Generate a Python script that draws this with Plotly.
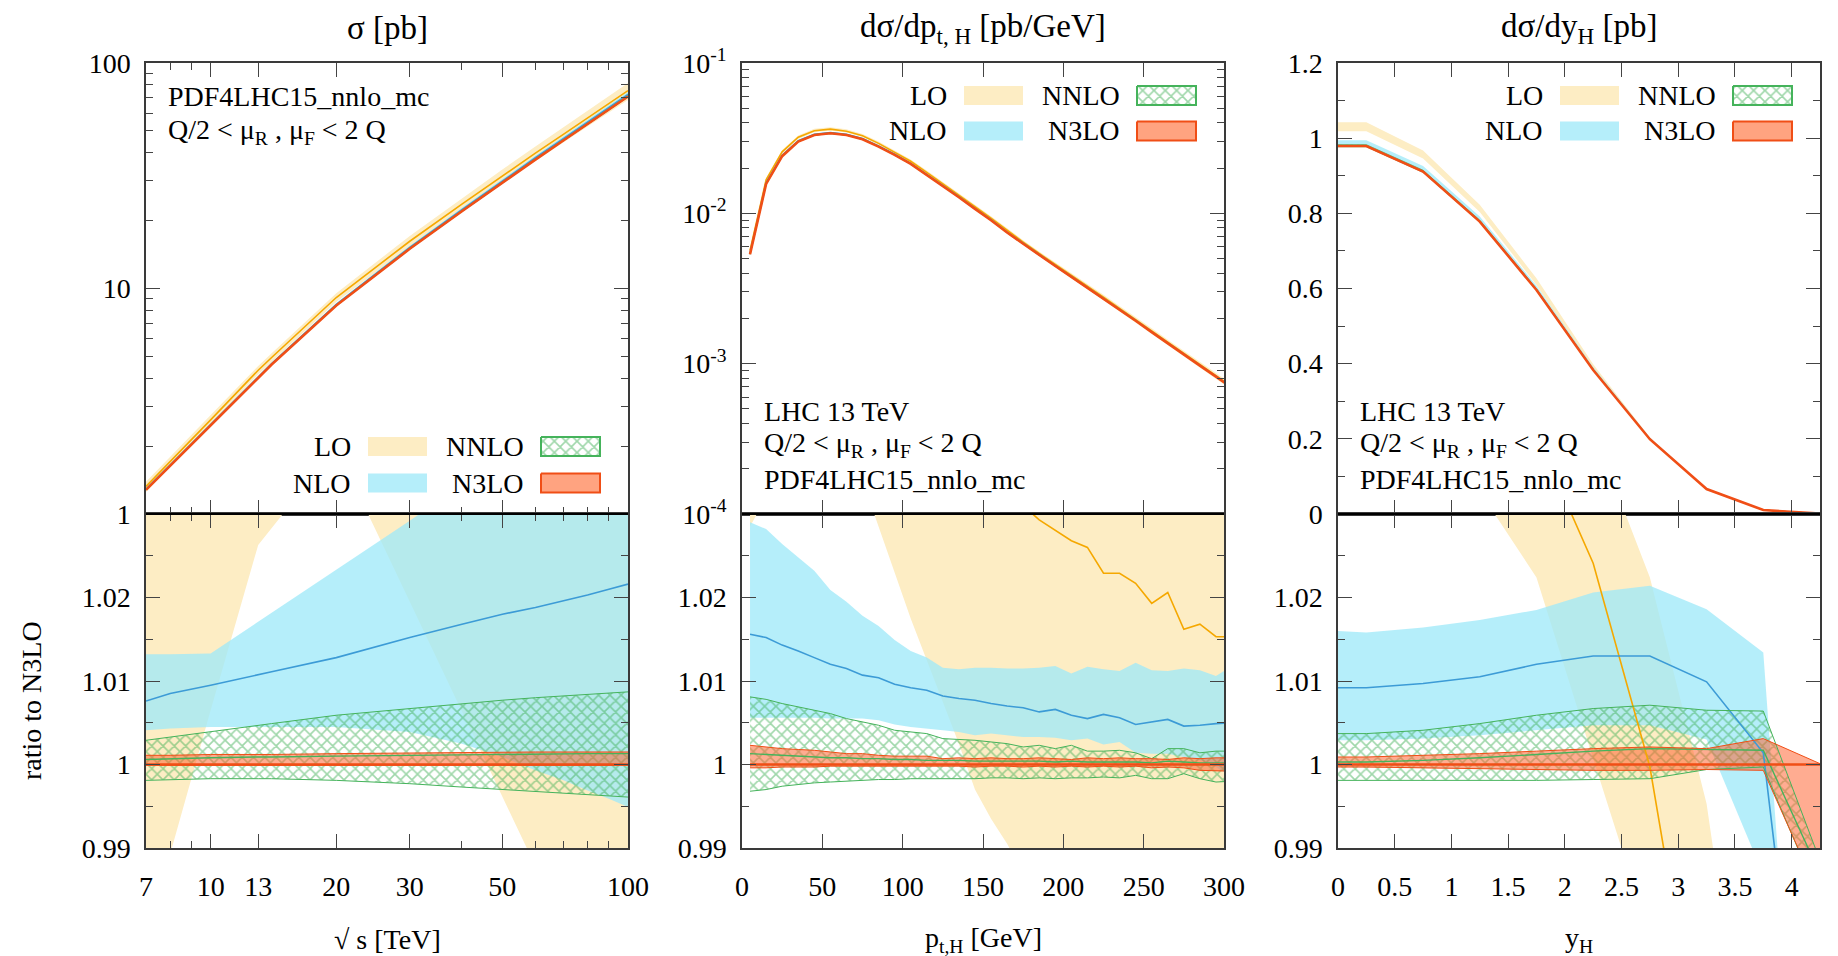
import plotly.graph_objects as go

W, H = 1838, 956
FONT = "Liberation Serif"

# ---------------- data: total cross section vs sqrt(s) ----------------
sqrts = [7, 8, 10, 13, 14, 20, 30, 40, 50, 60, 70, 80, 90, 100]
sig_n3lo = [1.28, 1.64, 2.48, 4.05, 4.60, 8.4, 15.0, 22.0, 29.5, 37.3, 45.3, 53.6, 62.0, 71.0]
s_lo_c = [1.035, 1.041, 1.054, 1.072, 1.075, 1.086, 1.080, 1.075, 1.070, 1.068, 1.066, 1.064, 1.063, 1.062]
s_lo_lo = [0.979, 0.990, 1.0065, 1.0263, 1.0283, 1.038, 1.0195, 1.0063, 0.9962, 0.9879, 0.9808, 0.9747, 0.9693, 0.9646]
s_lo_hi = [1.085, 1.092, 1.105, 1.120, 1.123, 1.135, 1.140, 1.142, 1.143, 1.144, 1.145, 1.146, 1.147, 1.148]
s_nlo_c = [1.0076, 1.0085, 1.0095, 1.0107, 1.0111, 1.0128, 1.0152, 1.0168, 1.0180, 1.0188, 1.0196, 1.0203, 1.0210, 1.0216]
s_nlo_lo = [1.0041, 1.0043, 1.0045, 1.0045, 1.0045, 1.0045, 1.0039, 1.0025, 1.0009, 0.9993, 0.9981, 0.9969, 0.9959, 0.9949]
s_nlo_hi = [1.0132, 1.0132, 1.0133, 1.0171, 1.0182, 1.0234, 1.0292, 1.0335, 1.0368, 1.0395, 1.0418, 1.0437, 1.0455, 1.0470]
s_nnlo_c = [1.0006, 1.0007, 1.0008, 1.0009, 1.0009, 1.0010, 1.0011, 1.0012, 1.0012, 1.0013, 1.0013, 1.0013, 1.0013, 1.0013]
s_nnlo_lo = [0.9981, 0.9982, 0.9983, 0.9983, 0.9983, 0.9981, 0.9977, 0.9973, 0.9970, 0.9968, 0.9966, 0.9964, 0.9962, 0.9961]
s_nnlo_hi = [1.0029, 1.0033, 1.0039, 1.0047, 1.0049, 1.0059, 1.0067, 1.0073, 1.0077, 1.0080, 1.0082, 1.0084, 1.0086, 1.0087]
s_n3_c = [1.0, 1.0, 1.0, 1.0, 1.0, 1.0, 1.0, 1.0, 1.0, 1.0, 1.0, 1.0, 1.0, 1.0]
s_n3_lo = [0.9999, 0.9999, 0.9999, 0.9999, 0.9999, 0.9999, 0.9999, 0.9999, 0.9999, 0.9999, 0.9999, 0.9999, 0.9999, 0.9999]
s_n3_hi = [1.0011, 1.0011, 1.0012, 1.0012, 1.0012, 1.0013, 1.0014, 1.0014, 1.0015, 1.0015, 1.0015, 1.0015, 1.0015, 1.0015]

# ---------------- data: Higgs transverse momentum ----------------
pt = [5, 15, 25, 35, 45, 55, 65, 75, 85, 95, 105, 115, 125, 135, 145, 155,
      165, 175, 185, 195, 205, 215, 225, 235, 245, 255, 265, 275, 285, 295, 305]
pt_n3lo = [0.00535, 0.0157, 0.0240, 0.0300, 0.0332, 0.0341, 0.0332, 0.0311, 0.0278, 0.0245,
           0.0213, 0.0180, 0.0152, 0.0128, 0.0107, 0.0090, 0.00745, 0.00625, 0.00525, 0.00446,
           0.00378, 0.00320, 0.00271, 0.00228, 0.00193, 0.00162, 0.00136, 0.00115, 0.00097,
           0.00082, 0.00069]
p_lo_c = [1.060, 1.065, 1.068, 1.070, 1.068, 1.065, 1.060, 1.055, 1.050, 1.046, 1.043, 1.040,
          1.038, 1.036, 1.034, 1.033, 1.032, 1.031, 1.0293, 1.0280, 1.0268, 1.0260, 1.0229,
          1.0229, 1.0217, 1.0193, 1.0206, 1.0162, 1.0168, 1.0153, 1.0153]
p_lo_lo = [1.0285, 1.032, 1.036, 1.040, 1.042, 1.041, 1.038, 1.034, 1.0285, 1.023, 1.0175,
           1.0125, 1.0075, 1.0025, 0.997, 0.9935, 0.9905, 0.987, 0.984, 0.981, 0.979, 0.977,
           0.975, 0.974, 0.973, 0.972, 0.971, 0.970, 0.969, 0.968, 0.967]
p_lo_hi = [1.090, 1.095, 1.100, 1.100, 1.100, 1.095, 1.090, 1.085, 1.080, 1.075, 1.072, 1.070,
           1.068, 1.066, 1.064, 1.063, 1.062, 1.061, 1.060, 1.060, 1.060, 1.060, 1.060, 1.060,
           1.060, 1.060, 1.060, 1.060, 1.060, 1.060, 1.060]
p_nlo_c = [1.0156, 1.0152, 1.0143, 1.0136, 1.0128, 1.0120, 1.0115, 1.0107, 1.0104, 1.0096,
           1.0092, 1.0089, 1.0082, 1.0079, 1.0077, 1.0073, 1.0070, 1.0068, 1.0063, 1.0066,
           1.0059, 1.0055, 1.0060, 1.0056, 1.0048, 1.0051, 1.0054, 1.0046, 1.0047, 1.0049, 1.0050]
p_nlo_lo = [1.0056, 1.0056, 1.0056, 1.0056, 1.0056, 1.0055, 1.0055, 1.0055, 1.0053, 1.0048,
            1.0045, 1.0043, 1.0041, 1.0039, 1.0035, 1.0037, 1.0035, 1.0033, 1.0033, 1.0032,
            1.0029, 1.0031, 1.0024, 1.0027, 1.0014, 1.0013, 1.0013, 1.0009, 1.0005, 0.9997, 0.9985]
p_nlo_hi = [1.0290, 1.0282, 1.0264, 1.0248, 1.0232, 1.0209, 1.0195, 1.0178, 1.0166, 1.0149,
            1.0136, 1.0128, 1.0116, 1.0114, 1.0116, 1.0116, 1.0115, 1.0115, 1.0116, 1.0118,
            1.0109, 1.0117, 1.0114, 1.0112, 1.0122, 1.0113, 1.0112, 1.0115, 1.0113, 1.0106, 1.0118]
p_nnlo_c = [1.0013, 1.0012, 1.0011, 1.0010, 1.0009, 1.0008, 1.0008, 1.0007, 1.0007, 1.0006,
            1.0006, 1.0005, 1.0005, 1.0005, 1.0004, 1.0004, 1.0004, 1.0004, 1.0004, 1.0003,
            1.0004, 1.0003, 1.0003, 1.0003, 1.0003, 1.0002, 1.0004, 1.0003, 1.0002, 1.0002, 1.0002]
p_nnlo_lo = [0.9968, 0.9970, 0.9974, 0.9976, 0.9978, 0.9979, 0.9980, 0.9981, 0.9982, 0.9982,
             0.9983, 0.9983, 0.9983, 0.9983, 0.9983, 0.9984, 0.9984, 0.9983, 0.9984, 0.9983,
             0.9984, 0.9984, 0.9985, 0.9984, 0.9987, 0.9983, 0.9983, 0.9989, 0.9983, 0.9979, 0.9980]
p_nnlo_hi = [1.0081, 1.0078, 1.0073, 1.0069, 1.0065, 1.0061, 1.0055, 1.0051, 1.0047, 1.0041,
             1.0039, 1.0037, 1.0031, 1.0030, 1.0029, 1.0027, 1.0025, 1.0021, 1.0023, 1.0019,
             1.0023, 1.0016, 1.0016, 1.0017, 1.0014, 1.0007, 1.0019, 1.0019, 1.0014, 1.0016, 1.0016]
p_n3_c = [1.0, 1.0, 1.0, 1.0, 1.0, 1.0, 1.0, 1.0, 1.0, 1.0, 1.0, 1.0, 1.0, 1.0, 1.0, 1.0,
          1.0, 1.0, 1.0, 1.0, 1.0, 1.0, 1.0, 1.0, 1.0, 1.0, 1.0, 1.0, 1.0, 1.0, 1.0]
p_n3_lo = [0.9996, 0.9996, 0.9997, 0.9997, 0.9997, 0.9998, 0.9998, 0.9998, 0.9998, 0.9998,
           0.9998, 0.9998, 0.9998, 0.9998, 0.9997, 0.9998, 0.9998, 0.9997, 0.9998, 0.9997,
           0.9998, 0.9997, 0.9998, 0.9997, 0.9998, 0.9996, 0.9997, 0.9996, 0.9993, 0.9992, 0.9992]
p_n3_hi = [1.0023, 1.0021, 1.0019, 1.0018, 1.0017, 1.0015, 1.0013, 1.0013, 1.0011, 1.0010,
           1.0010, 1.0010, 1.0007, 1.0008, 1.0007, 1.0008, 1.0007, 1.0007, 1.0008, 1.0007,
           1.0006, 1.0008, 1.0007, 1.0008, 1.0007, 1.0007, 1.0006, 1.0008, 1.0007, 1.0008, 1.0008]

# ---------------- data: Higgs rapidity ----------------
yh = [0, 0.25, 0.75, 1.25, 1.75, 2.25, 2.75, 3.25, 3.75, 4.25]
yh_n3lo = [0.979, 0.979, 0.911, 0.778, 0.596, 0.383, 0.199, 0.0665, 0.0106, 0.001]
y_lo_c = [1.052, 1.052, 1.050, 1.046, 1.0395, 1.0241, 0.9997, 0.961, 0.920, 0.880]
y_lo_lo = [1.040, 1.040, 1.038, 1.0327, 1.0224, 1.0007, 0.9793, 0.950, 0.900, 0.860]
y_lo_hi = [1.065, 1.065, 1.062, 1.058, 1.052, 1.040, 1.0224, 0.9953, 0.9486, 0.920]
y_nlo_c = [1.0092, 1.0092, 1.0097, 1.0105, 1.0120, 1.0130, 1.0130, 1.0099, 1.0014, 0.9444]
y_nlo_lo = [1.0029, 1.0029, 1.0031, 1.0035, 1.0041, 1.0047, 1.0047, 1.0030, 0.9868, 0.930]
y_nlo_hi = [1.0160, 1.0158, 1.0164, 1.0173, 1.0185, 1.0206, 1.0214, 1.0186, 1.0134, 0.920]
y_nnlo_c = [1.0003, 1.0003, 1.0005, 1.0008, 1.0012, 1.0016, 1.0019, 1.0018, 1.0017, 0.9869]
y_nnlo_lo = [0.9981, 0.9981, 0.9981, 0.9981, 0.9981, 0.9982, 0.9983, 0.9994, 0.9997, 0.9837]
y_nnlo_hi = [1.0037, 1.0037, 1.0041, 1.0049, 1.0059, 1.0067, 1.0071, 1.0065, 1.0064, 0.9885]
y_n3_c = [1.0, 1.0, 1.0, 1.0, 1.0, 1.0, 1.0, 1.0, 1.0, 1.0]
y_n3_lo = [0.9997, 0.9997, 0.9996, 0.9995, 0.9994, 0.9993, 0.9993, 0.9994, 0.9993, 0.9841]
y_n3_hi = [1.0009, 1.0009, 1.0011, 1.0013, 1.0016, 1.0019, 1.0021, 1.0019, 1.0031, 1.0001]

# tick labels
sqrts_ticks = [7, 10, 13, 20, 30, 50, 100]
sqrts_minor = [8, 9, 40, 60, 70, 80, 90]
ratio_ticks = [0.99, 1.0, 1.01, 1.02, 1.03]
ratio_labels = ["0.99", "1", "1.01", "1.02", ""]
pt_dec_ticks = [1e-4, 1e-3, 1e-2, 1e-1]
pt_dec_labels = ["10<sup>-4</sup>", "10<sup>-3</sup>", "10<sup>-2</sup>", "10<sup>-1</sup>"]
order_names = ["LO", "NLO", "NNLO", "N3LO"]

# ---------------- styling ----------------
C_LO_BAND = "rgb(253,237,196)"
C_LO_LINE = "#F5A800"
C_NLO_BAND = "rgba(159,233,249,0.77)"
C_NLO_LINE = "#3C9BD6"
C_NNLO = "#45B35B"
C_N3_BAND = "rgba(255,95,45,0.52)"
C_N3_LINE = "#F04E16"
HATCH = dict(shape="x", fgcolor="#3FAF55", size=8, solidity=0.36)

PANEL_X = [(146, 628), (742, 1224), (1338, 1820)]
TOP_Y = (63, 514)
BOT_Y = (514, 848)


def fx(p):
    return p / W


def fy(p):
    return 1 - p / H


fig = go.Figure()


def scale(base, ratio):
    return [b * r for b, r in zip(base, ratio)]


def add_band(x, lo, hi, xa, ya, color, pattern=False):
    xs = list(x) + list(x)[::-1]
    ys = list(hi) + list(lo)[::-1]
    kw = dict(x=xs, y=ys, xaxis=xa, yaxis=ya, mode="lines", fill="toself",
              line=dict(width=0), hoverinfo="skip", showlegend=False)
    if pattern:
        kw["fillcolor"] = "rgba(0,0,0,0)"
        kw["fillpattern"] = HATCH
    else:
        kw["fillcolor"] = color
    fig.add_trace(go.Scatter(**kw))


def add_line(x, y, xa, ya, color, width):
    fig.add_trace(go.Scatter(x=x, y=y, xaxis=xa, yaxis=ya, mode="lines",
                             line=dict(color=color, width=width), hoverinfo="skip",
                             showlegend=False))


def draw_panel(x, lo, nlo, nnlo, n3, xa, ya, edge_w=1.0, centre_lines=True):
    # each of lo,nlo,nnlo,n3 : (centre, low, high)
    add_band(x, lo[1], lo[2], xa, ya, C_LO_BAND)
    add_band(x, nlo[1], nlo[2], xa, ya, C_NLO_BAND)
    add_band(x, nnlo[1], nnlo[2], xa, ya, C_NNLO, pattern=True)
    add_band(x, n3[1], n3[2], xa, ya, C_N3_BAND)
    if centre_lines:
        add_line(x, lo[0], xa, ya, C_LO_LINE, 1.6)
        add_line(x, nlo[0], xa, ya, C_NLO_LINE, 1.6)
    add_line(x, nnlo[1], xa, ya, C_NNLO, edge_w)
    add_line(x, nnlo[2], xa, ya, C_NNLO, edge_w)
    if centre_lines:
        add_line(x, nnlo[0], xa, ya, C_NNLO, 1.4)
    add_line(x, n3[1], xa, ya, C_N3_LINE, edge_w)
    add_line(x, n3[2], xa, ya, C_N3_LINE, edge_w)
    add_line(x, n3[0], xa, ya, C_N3_LINE, 2.6)


def abs_sets(base, sets):
    return tuple(scale(base, s) for s in sets)


# ratio sets
S = dict(lo=(s_lo_c, s_lo_lo, s_lo_hi), nlo=(s_nlo_c, s_nlo_lo, s_nlo_hi),
         nnlo=(s_nnlo_c, s_nnlo_lo, s_nnlo_hi), n3=(s_n3_c, s_n3_lo, s_n3_hi))
P = dict(lo=(p_lo_c, p_lo_lo, p_lo_hi), nlo=(p_nlo_c, p_nlo_lo, p_nlo_hi),
         nnlo=(p_nnlo_c, p_nnlo_lo, p_nnlo_hi), n3=(p_n3_c, p_n3_lo, p_n3_hi))
Y = dict(lo=(y_lo_c, y_lo_lo, y_lo_hi), nlo=(y_nlo_c, y_nlo_lo, y_nlo_hi),
         nnlo=(y_nnlo_c, y_nnlo_lo, y_nnlo_hi), n3=(y_n3_c, y_n3_lo, y_n3_hi))

for xvals, base, R, (xa_top, ya_top), (xa_bot, ya_bot), top_lines in [
        (sqrts, sig_n3lo, S, ("x", "y"), ("x4", "y4"), True),
        (pt, pt_n3lo, P, ("x2", "y2"), ("x5", "y5"), True),
        (yh, yh_n3lo, Y, ("x3", "y3"), ("x6", "y6"), False)]:
    draw_panel(xvals, abs_sets(base, R["lo"]), abs_sets(base, R["nlo"]),
               abs_sets(base, R["nnlo"]), abs_sets(base, R["n3"]), xa_top, ya_top,
               edge_w=0.8, centre_lines=top_lines)
    draw_panel(xvals, R["lo"], R["nlo"], R["nnlo"], R["n3"], xa_bot, ya_bot)

# ---------------- legend swatches (pixel overlay axes) ----------------
SW_W, SW_H = 59, 19


def rect_xy(x0, y0, x1, y1):
    return [x0, x1, x1, x0, x0], [y0, y0, y1, y1, y0]


legend_rows = {0: (446.5, 483.0), 1: (95.5, 131.0), 2: (95.5, 131.0)}
annotations = []
for i, (pl, pr) in enumerate(PANEL_X):
    r1, r2 = legend_rows[i]
    items = [("LO", pr - 260, r1, C_LO_BAND, None, False),
             ("NLO", pr - 260, r2, "rgb(181,238,250)", None, False),
             ("NNLO", pr - 87, r1, C_NNLO, C_NNLO, True),
             ("N3LO", pr - 87, r2, "rgb(255,163,128)", C_N3_LINE, False)]
    for name, x0, yc, fc, lc, pat in items:
        xs, ys = rect_xy(x0, yc - SW_H / 2, x0 + SW_W, yc + SW_H / 2)
        kw = dict(x=xs, y=ys, xaxis="x7", yaxis="y7", mode="lines", fill="toself",
                  hoverinfo="skip", showlegend=False,
                  line=dict(color=lc if lc else "rgba(0,0,0,0)", width=2 if lc else 0))
        if pat:
            kw["fillcolor"] = "rgba(0,0,0,0)"
            kw["fillpattern"] = HATCH
        else:
            kw["fillcolor"] = fc
        fig.add_trace(go.Scatter(**kw))
        annotations.append(dict(text=name, x=fx(x0 - 15), y=fy(yc), xref="paper", yref="paper",
                                xanchor="right", yanchor="middle", showarrow=False,
                                font=dict(family=FONT, size=28, color="black")))


def ann(text, x, y, size=28, xanchor="left", angle=0):
    annotations.append(dict(text=text, x=fx(x), y=fy(y), xref="paper", yref="paper",
                            xanchor=xanchor, yanchor="middle", showarrow=False, textangle=angle,
                            font=dict(family=FONT, size=size, color="black")))


MU = "Q/2 &lt; μ<sub>R</sub> , μ<sub>F</sub> &lt; 2 Q"
ann("σ [pb]", 387, 28, 33, "center")
ann("dσ/dp<sub>t, H</sub> [pb/GeV]", 983, 28, 33, "center")
ann("dσ/dy<sub>H</sub> [pb]", 1579, 28, 33, "center")
ann("PDF4LHC15_nnlo_mc", 166, 96)
ann(MU, 166, 132)
for xl in (762, 1358):
    ann("LHC 13 TeV", xl, 411)
    ann(MU, xl, 445)
    ann("PDF4LHC15_nnlo_mc", xl, 479)
ann("ratio to N3LO", 31, 701, 28, "center", -90)
ann("√ s [TeV]", 387, 939, 28, "center")
ann("p<sub>t,H</sub> [GeV]", 983, 939, 28, "center")
ann("y<sub>H</sub>", 1579, 939, 28, "center")

# ---------------- axes ----------------
TICKFONT = dict(family=FONT, size=28, color="black")


def base_axis(domain, anchor):
    return dict(domain=domain, anchor=anchor, showline=True, linecolor="#3a3a3a", linewidth=1.5,
                mirror="allticks", ticks="inside", ticklen=14, tickwidth=1.3, tickcolor="#444",
                showgrid=False, zeroline=False, tickfont=TICKFONT, fixedrange=True,
                automargin=False)


def minor(**kw):
    d = dict(ticks="inside", ticklen=7, tickwidth=1.3, tickcolor="#444", showgrid=False)
    d.update(kw)
    return d


layout_axes = {}
ydom_top = [fy(TOP_Y[1]), fy(TOP_Y[0])]
ydom_bot = [fy(BOT_Y[1]), fy(BOT_Y[0])]
xkeys_top = ["xaxis", "xaxis2", "xaxis3"]
xkeys_bot = ["xaxis4", "xaxis5", "xaxis6"]
ykeys_top = ["yaxis", "yaxis2", "yaxis3"]
ykeys_bot = ["yaxis4", "yaxis5", "yaxis6"]
yanchors_top = ["y", "y2", "y3"]
yanchors_bot = ["y4", "y5", "y6"]
xanchors_top = ["x", "x2", "x3"]
xanchors_bot = ["x4", "x5", "x6"]

x_specs = [
    dict(type="log", range=[0.845098, 2.0], tickmode="array", tickvals=sqrts_ticks,
         ticktext=[str(v) for v in sqrts_ticks], minor=minor(tickmode="array", tickvals=sqrts_minor)),
    dict(type="linear", range=[0, 300], tickmode="linear", tick0=0, dtick=50),
    dict(type="linear", range=[0, 4.25], tickmode="linear", tick0=0, dtick=0.5),
]
y_top_specs = [
    dict(type="log", range=[0, 2], tickmode="array", tickvals=[1, 10, 100], ticktext=["1", "10", "100"],
         minor=minor(tickmode="array", tickvals=[2, 3, 4, 5, 6, 7, 8, 9, 20, 30, 40, 50, 60, 70, 80, 90])),
    dict(type="log", range=[-4, -1], tickmode="array", tickvals=pt_dec_ticks, ticktext=pt_dec_labels,
         minor=minor(tickmode="array", tickvals=[m * d for d in (1e-4, 1e-3, 1e-2) for m in range(2, 10)])),
    dict(type="linear", range=[0, 1.2], tickmode="linear", tick0=0, dtick=0.2, minor=minor(dtick=0.1)),
]

for i, (pl, pr) in enumerate(PANEL_X):
    xd = [fx(pl), fx(pr)]
    top = base_axis(xd, yanchors_top[i])
    top.update(x_specs[i])
    top.update(showticklabels=False)
    layout_axes[xkeys_top[i]] = top
    bot = base_axis(xd, yanchors_bot[i])
    bot.update(x_specs[i])
    bot.update(showticklabels=True, ticklabelstandoff=13)
    layout_axes[xkeys_bot[i]] = bot

    yt = base_axis(ydom_top, xanchors_top[i])
    yt.update(y_top_specs[i])
    yt.update(ticklabelstandoff=8)
    layout_axes[ykeys_top[i]] = yt
    yb = base_axis(ydom_bot, xanchors_bot[i])
    yb.update(type="linear", range=[0.99, 1.03], tickmode="array", tickvals=ratio_ticks,
              ticktext=ratio_labels, minor=minor(tickmode="linear", tick0=0.99, dtick=0.005),
              ticklabelstandoff=8)
    layout_axes[ykeys_bot[i]] = yb

layout_axes["xaxis7"] = dict(domain=[0, 1], anchor="y7", range=[0, W], visible=False,
                             fixedrange=True, automargin=False)
layout_axes["yaxis7"] = dict(domain=[0, 1], anchor="x7", range=[H, 0], visible=False,
                             fixedrange=True, automargin=False)

shapes = []
for pl, pr in PANEL_X:
    shapes.append(dict(type="line", xref="paper", yref="paper", x0=fx(pl), x1=fx(pr),
                       y0=fy(TOP_Y[1]), y1=fy(TOP_Y[1]), line=dict(color="black", width=2)))

fig.update_layout(
    width=W, height=H, autosize=False,
    margin=dict(l=0, r=0, t=0, b=0, pad=0, autoexpand=False),
    paper_bgcolor="white", plot_bgcolor="rgba(0,0,0,0)",
    showlegend=False, annotations=annotations, shapes=shapes,
    font=dict(family=FONT, size=28, color="black"),
    **layout_axes,
)

fig.write_html("out.html", config={"displayModeBar": False})
